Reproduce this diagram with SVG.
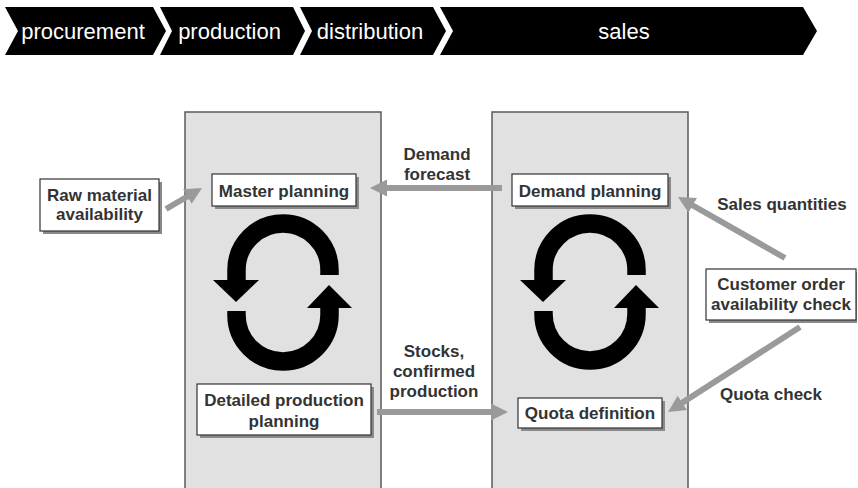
<svg xmlns="http://www.w3.org/2000/svg" width="858" height="488" viewBox="0 0 858 488">
<defs>
<style>
.chev{fill:#000}
.ctext{fill:#fff;font-family:"Liberation Sans",Arial,sans-serif;font-size:22px;text-anchor:middle}
.panel{fill:#e1e1e1;stroke:#5a5a5a;stroke-width:1.5}
.box{fill:#fff;stroke:#333;stroke-width:1.2}
.shadow{fill:#8a8a8a}
.lbl{fill:#333;font-family:"Liberation Sans",Arial,sans-serif;font-size:17px;font-weight:bold;text-anchor:middle}
.conn{stroke:#9a9a9a;stroke-width:6;fill:none}
.ring{stroke:#000;stroke-width:18.5;fill:none}
</style>
<marker id="ah" markerUnits="userSpaceOnUse" markerWidth="18" markerHeight="18" refX="7" refY="8.5" orient="auto">
<path d="M0,0 L17,8.5 L0,17 z" fill="#9a9a9a"/>
</marker>
</defs>

<g id="value-chain">
<polygon class="chev" points="5,7 153,7 166,31 153,55 5,55 18,31"/>
<polygon class="chev" points="160,7 293,7 305,31 293,55 160,55 172,31"/>
<polygon class="chev" points="300,7 433,7 446,31 433,55 300,55 312,31"/>
<polygon class="chev" points="440,7 803,7 817,31 803,55 440,55 453,31"/>
<text class="ctext" x="83" y="39">procurement</text>
<text class="ctext" x="229.5" y="39">production</text>
<text class="ctext" x="370" y="39">distribution</text>
<text class="ctext" x="624" y="39">sales</text>
</g>

<g id="production-panel">
<rect class="panel" x="185" y="112" width="196" height="380"/>
<path class="ring" d="M329.5,275 L329.5,270 A46.5,46.5 0 0 0 236.5,270 L236.5,281"/>
<polygon points="213,280 259,280 236,302" fill="#000"/>
<path class="ring" d="M236.5,311 L236.5,315 A46.5,46.5 0 0 0 329.5,315 L329.5,307"/>
<polygon points="307,308 352,308 329,285" fill="#000"/>
</g>

<g id="sales-panel">
<rect class="panel" x="492" y="112" width="196" height="380"/>
<path class="ring" d="M636.5,275 L636.5,270 A46.5,46.5 0 0 0 543.5,270 L543.5,281"/>
<polygon points="520,280 566,280 543,302" fill="#000"/>
<path class="ring" d="M543.5,311 L543.5,314 A46.5,46.5 0 0 0 636.5,314 L636.5,307"/>
<polygon points="614,308 659,308 636,285" fill="#000"/>
</g>

<g id="connectors">
<line class="conn" x1="166" y1="209" x2="193.4" y2="193" marker-end="url(#ah)"/>
<line class="conn" x1="502" y1="188" x2="380" y2="188" marker-end="url(#ah)"/>
<line class="conn" x1="377" y1="412" x2="498" y2="412" marker-end="url(#ah)"/>
<line class="conn" x1="785" y1="258" x2="686.7" y2="202" marker-end="url(#ah)"/>
<line class="conn" x1="800" y1="327" x2="676.4" y2="406.6" marker-end="url(#ah)"/>
<text class="lbl" x="437" y="160">Demand</text>
<text class="lbl" x="437" y="180">forecast</text>
<text class="lbl" x="434" y="357">Stocks,</text>
<text class="lbl" x="434" y="377">confirmed</text>
<text class="lbl" x="434" y="397">production</text>
<text class="lbl" x="782" y="210">Sales quantities</text>
<text class="lbl" x="771" y="400">Quota check</text>
</g>

<g id="raw-material">
<rect class="shadow" x="43" y="182" width="119" height="52"/>
<rect class="box" x="40" y="179" width="119" height="52"/>
<text class="lbl" x="99.5" y="201">Raw material</text>
<text class="lbl" x="99.5" y="220">availability</text>
</g>

<g id="master-planning">
<rect class="shadow" x="215" y="177" width="144" height="32"/>
<rect class="box" x="212" y="174" width="144" height="32"/>
<text class="lbl" x="284" y="197">Master planning</text>
</g>

<g id="detailed-production-planning">
<rect class="shadow" x="200" y="387" width="174" height="51"/>
<rect class="box" x="197" y="384" width="174" height="51"/>
<text class="lbl" x="284" y="406">Detailed production</text>
<text class="lbl" x="284" y="427">planning</text>
</g>

<g id="demand-planning">
<rect class="shadow" x="515" y="177" width="156" height="32"/>
<rect class="box" x="512" y="174" width="156" height="32"/>
<text class="lbl" x="590" y="197">Demand planning</text>
</g>

<g id="quota-definition">
<rect class="shadow" x="521" y="401" width="144" height="30"/>
<rect class="box" x="518" y="398" width="144" height="30"/>
<text class="lbl" x="590" y="419">Quota definition</text>
</g>

<g id="customer-order">
<rect class="shadow" x="709" y="272" width="148" height="51"/>
<rect class="box" x="706" y="269" width="150" height="51"/>
<text class="lbl" x="781" y="290">Customer order</text>
<text class="lbl" x="781" y="310">availability check</text>
</g>
</svg>
